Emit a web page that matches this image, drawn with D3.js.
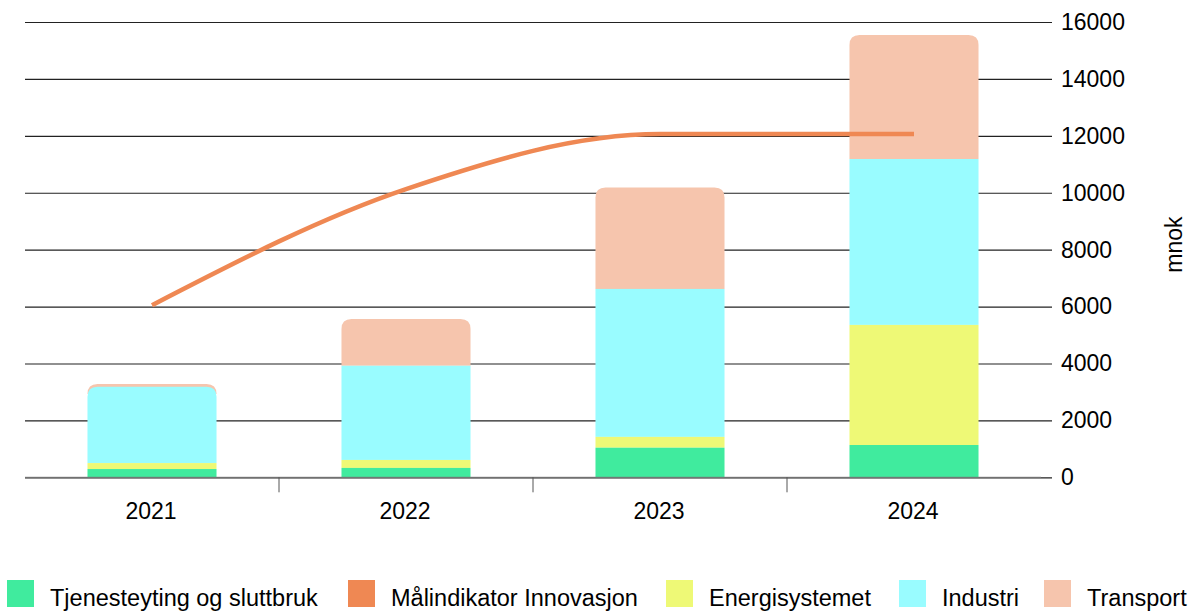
<!DOCTYPE html>
<html>
<head>
<meta charset="utf-8">
<script src="https://cdn.jsdelivr.net/npm/d3@7"></script>
<style>
  html, body { margin: 0; padding: 0; background: #fff; }
  svg { display: block; font-family: "Liberation Sans", Arial, sans-serif; }
</style>
</head>
<body>
<svg id="chart" width="1192" height="612"></svg>
<script>
// ---- data ----
const years = ["2021", "2022", "2023", "2024"];
const tjenesteyting = [290, 330, 1040, 1135];
const energisystemet = [210, 280, 380, 4220];
const industri = [2680, 3310, 5200, 5830];
const transport = [100, 1640, 3560, 4360];
const malindikator = [6050, 10130, 12060, 12060];
const yTicks = [0, 2000, 4000, 6000, 8000, 10000, 12000, 14000, 16000];

const seriesNames = ["Tjenesteyting og sluttbruk", "Energisystemet", "Industri", "Transport"];
const seriesValues = [tjenesteyting, energisystemet, industri, transport];
const colors = {
  "Tjenesteyting og sluttbruk": "#40EB9E",
  "Målindikator Innovasjon": "#EF8853",
  "Energisystemet": "#EEF976",
  "Industri": "#99FCFF",
  "Transport": "#F6C5AD"
};
const legendOrder = ["Tjenesteyting og sluttbruk", "Målindikator Innovasjon", "Energisystemet", "Industri", "Transport"];

// ---- layout ----
const svg = d3.select("#chart");
const plotLeft = 25, plotRight = 1041, plotTop = 22, plotBottom = 477.3;

const x = d3.scaleBand().domain(years).range([plotLeft, plotRight]).padding(0);
const y = d3.scaleLinear().domain([0, 16000]).range([plotBottom, plotTop]);
const barW = x.bandwidth() * 0.508;
const r = 10;

// gridlines + right axis
const yAxis = d3.axisRight(y).tickValues(yTicks).tickSize(0).tickPadding(0).tickFormat(d3.format("d"));
const gy = svg.append("g").attr("transform", `translate(${plotRight},0)`);
gy.call(yAxis);
gy.select(".domain").remove();
gy.selectAll(".tick line").attr("x1", -(plotRight - plotLeft)).attr("x2", 11).attr("stroke", "#222").attr("stroke-width", 1.2);
gy.selectAll(".tick text").attr("x", 20).attr("font-size", 23).attr("fill", "#000")
  .attr("font-family", "'Liberation Sans', Arial, sans-serif").attr("text-anchor", "start");

// y-axis title
svg.append("text").attr("transform", `translate(1182,${(plotTop + plotBottom) / 2 - 5}) rotate(-90)`)
  .attr("text-anchor", "middle").attr("font-size", 23).attr("fill", "#000").text("mnok");

// stacked data
const stacked = years.map((yr, i) => {
  let acc = 0;
  return seriesNames.map((name, s) => {
    const v0 = acc; acc += seriesValues[s][i];
    return { year: yr, name, v0, v1: acc };
  });
});

function roundedTop(x0, w, yTop, yBot, rad) {
  const rr = Math.min(rad, w / 2);
  return `M${x0},${yBot} L${x0},${yTop + rr} Q${x0},${yTop} ${x0 + rr},${yTop} L${x0 + w - rr},${yTop} Q${x0 + w},${yTop} ${x0 + w},${yTop + rr} L${x0 + w},${yBot} Z`;
}

const gBars = svg.append("g");
stacked.forEach(col => {
  const cx = x(col[0].year) + x.bandwidth() / 2;
  const x0 = cx - barW / 2;
  let heightAbove = 0;
  for (let s = col.length - 1; s >= 0; s--) {
    const d = col[s];
    const yTop = y(d.v1), yBot = y(d.v0);
    const h = yBot - yTop;
    const rounded = heightAbove < r;
    if (rounded) {
      const bot = Math.max(yBot, yTop + r);
      gBars.append("path").attr("d", roundedTop(x0, barW, yTop, Math.min(bot, plotBottom), r)).attr("fill", colors[d.name]);
    } else {
      gBars.append("rect").attr("x", x0).attr("y", yTop).attr("width", barW).attr("height", h).attr("fill", colors[d.name]);
    }
    heightAbove += h;
  }
});

// x axis baseline + ticks
const gx = svg.append("g").attr("transform", `translate(0,${plotBottom})`);
gx.append("line").attr("x1", plotLeft).attr("x2", plotRight).attr("stroke", "#777").attr("stroke-width", 1);
years.slice(1).forEach(yr => {
  gx.append("line").attr("x1", x(yr)).attr("x2", x(yr)).attr("y1", 0).attr("y2", 15).attr("stroke", "#555").attr("stroke-width", 1);
});
years.forEach(yr => {
  gx.append("text").attr("x", x(yr) + x.bandwidth() / 2 - 1).attr("y", 42).attr("text-anchor", "middle")
    .attr("font-size", 23).attr("fill", "#000").text(yr);
});

// line
const line = d3.line().x((d, i) => x(years[i]) + x.bandwidth() / 2).y(d => y(d)).curve(d3.curveMonotoneX);
svg.append("path").datum(malindikator).attr("d", line).attr("fill", "none")
  .attr("stroke", colors["Målindikator Innovasjon"]).attr("stroke-width", 4.5);

// legend (item x positions as laid out in the reference)
const legendX = [7, 348, 666, 899, 1044];
const gL = svg.append("g");
legendOrder.forEach((name, i) => {
  const lx = legendX[i];
  gL.append("rect").attr("x", lx).attr("y", 580).attr("width", 27).attr("height", 27).attr("fill", colors[name]);
  gL.append("text").attr("x", lx + 43).attr("y", 606).attr("font-size", 23.5).attr("fill", "#000").text(name);
});
</script>
</body>
</html>
